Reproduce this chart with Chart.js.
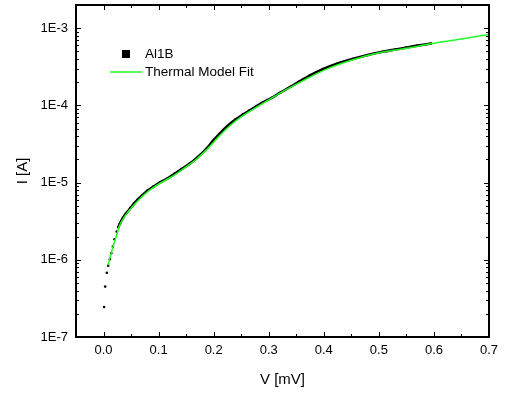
<!DOCTYPE html>
<html>
<head>
<meta charset="utf-8">
<script src="https://cdn.jsdelivr.net/npm/chart.js@4/dist/chart.umd.min.js"></script>
<style>
html,body{margin:0;padding:0;background:#fff;}
canvas{display:block;}
</style>
</head>
<body>
<canvas id="c" width="512" height="394"></canvas>
<script>
// ---- data ----
const measLabel = 'Al1B';
const measV = [0.001,0.003,0.006,0.0085,0.0115,0.014,0.017,0.020,0.024,0.027,0.030,0.035,0.041,0.048,0.055,0.062,0.070,0.080,0.090,0.102,0.115,0.129,0.142,0.156,0.170,0.187,0.200,0.211,0.225,0.240,0.253,0.265,0.276,0.290,0.305,0.320,0.340,0.356,0.375,0.398,0.425,0.452,0.480,0.507,0.530,0.549,0.570,0.595];
const measI = [2.45e-7,4.5e-7,6.8e-7,8.4e-7,1.02e-6,1.22e-6,1.48e-6,1.85e-6,2.32e-6,2.65e-6,2.97e-6,3.45e-6,4.0e-6,4.6e-6,5.3e-6,6.0e-6,6.8e-6,7.9e-6,8.8e-6,1.0e-5,1.12e-5,1.3e-5,1.5e-5,1.75e-5,2.1e-5,2.75e-5,3.55e-5,4.3e-5,5.4e-5,6.6e-5,7.6e-5,8.6e-5,9.6e-5,1.1e-4,1.25e-4,1.45e-4,1.75e-4,2.05e-4,2.45e-4,2.95e-4,3.5e-4,4.0e-4,4.5e-4,4.95e-4,5.3e-4,5.6e-4,5.95e-4,6.35e-4];
// below this voltage the measured points are shown as separate dots
const measDotsBelow = 0.027;

const fitLabel = 'Thermal Model Fit';
const fitV = [0.008,0.015,0.022,0.029,0.040,0.055,0.070,0.090,0.110,0.130,0.150,0.170,0.190,0.210,0.230,0.250,0.275,0.300,0.330,0.360,0.400,0.450,0.500,0.550,0.600,0.650,0.700];
const fitI = [8.5e-7,1.3e-6,1.9e-6,2.75e-6,3.8e-6,5.1e-6,6.6e-6,8.6e-6,1.05e-5,1.27e-5,1.6e-5,2.05e-5,2.8e-5,4.0e-5,5.5e-5,7.1e-5,9.2e-5,1.18e-4,1.58e-4,2.05e-4,2.85e-4,3.85e-4,4.8e-4,5.5e-4,6.4e-4,7.25e-4,8.3e-4];

const xTicks = [0.0,0.1,0.2,0.3,0.4,0.5,0.6,0.7];
const xTickLabels = ['0.0','0.1','0.2','0.3','0.4','0.5','0.6','0.7'];
const xMinorTicks = [0.05,0.15,0.25,0.35,0.45,0.55,0.65];
const yTicks = [1e-7,1e-6,1e-5,1e-4,1e-3];
const yTickLabels = ['1E-7','1E-6','1E-5','1E-4','1E-3'];
const xTitle = 'V [mV]';
const yTitle = 'I [A]';

const FONT = "'Liberation Sans', Arial, sans-serif";
const GREEN = '#22ff22';

const measData = measV.map((v,i)=>({x:v,y:measI[i]}));
const fitData = fitV.map((v,i)=>({x:v,y:fitI[i]}));

const framePlugin = {
  id: 'frame',
  afterDatasetsDraw(chart) {
    const {ctx, chartArea: a, scales} = chart;
    const xs = scales.x, ys = scales.y;
    ctx.save();
    ctx.strokeStyle = '#000';
    ctx.lineWidth = 1;
    const tick = (x1,y1,x2,y2)=>{ctx.beginPath();ctx.moveTo(x1,y1);ctx.lineTo(x2,y2);ctx.stroke();};
    xTicks.forEach(v=>{const p=Math.round(xs.getPixelForValue(v))+0.5; tick(p,a.bottom,p,a.bottom-5); tick(p,a.top,p,a.top+5);});
    xMinorTicks.forEach(v=>{const p=Math.round(xs.getPixelForValue(v))+0.5; tick(p,a.bottom,p,a.bottom-3); tick(p,a.top,p,a.top+3);});
    const yMax = ys.max;
    for (let e=-7; e<=-3; e++) {
      for (let m=1; m<=9; m++) {
        const v = m*Math.pow(10,e);
        if (v > yMax*1.0001) break;
        const p = Math.round(ys.getPixelForValue(v))+0.5;
        const len = m===1 ? 5 : 3;
        tick(a.left,p,a.left+len,p);
        tick(a.right,p,a.right-len,p);
      }
    }
    ctx.lineWidth = 2;
    ctx.strokeRect(a.left, a.top, a.right-a.left, a.bottom-a.top);
    // legend
    const lx = a.left + 34, ly1 = a.top + 49, ly2 = a.top + 67;
    ctx.fillStyle = '#000';
    ctx.fillRect(lx+12, ly1-4, 8, 8);
    ctx.strokeStyle = GREEN;
    ctx.lineWidth = 1.5;
    tick(lx, ly2, lx+32, ly2);
    ctx.fillStyle = '#000';
    ctx.font = '13.5px ' + FONT;
    ctx.textBaseline = 'middle';
    ctx.textAlign = 'left';
    ctx.fillText(chart.data.datasets[0].label, lx+35, ly1);
    ctx.fillText(chart.data.datasets[1].label, lx+35, ly2);
    ctx.restore();
  }
};

new Chart(document.getElementById('c'), {
  type: 'scatter',
  data: {
    datasets: [
      {
        label: measLabel,
        data: measData,
        showLine: true,
        borderColor: '#000',
        borderWidth: 2.6,
        backgroundColor: '#000',
        pointRadius: 1.3,
        pointBorderWidth: 0,
        pointBackgroundColor: '#000',
        cubicInterpolationMode: 'monotone',
        segment: {
          borderColor: c => (measV[c.p0DataIndex] < measDotsBelow ? 'rgba(0,0,0,0)' : '#000')
        },
        order: 2
      },
      {
        label: fitLabel,
        data: fitData,
        showLine: true,
        borderColor: GREEN,
        borderWidth: 1.5,
        pointRadius: 0,
        cubicInterpolationMode: 'monotone',
        order: 1
      }
    ]
  },
  options: {
    responsive: false,
    devicePixelRatio: 1,
    animation: false,
    layout: {padding: {left: 0, right: 23, top: 5, bottom: 0}},
    plugins: {legend: {display: false}, tooltip: {enabled: false}},
    scales: {
      x: {
        type: 'linear',
        min: -0.05, max: 0.7,
        grid: {display: false, drawTicks: false, tickLength: 0},
        border: {display: false},
        afterBuildTicks: s => { s.ticks = xTicks.map(v=>({value:v})); },
        afterFit: s => { s.height = 57; s.paddingLeft = 0; s.paddingRight = 0; },
        ticks: {
          color: '#000', padding: 6, maxRotation: 0, autoSkip: false,
          font: {family: FONT, size: 13},
          callback: (v) => { const i = xTicks.findIndex(t=>Math.abs(t-v)<1e-9); return i>=0 ? xTickLabels[i] : ''; }
        },
        title: {display: true, text: xTitle, color: '#000', font: {family: FONT, size: 15}, padding: {top: 0, bottom: 5}}
      },
      y: {
        type: 'logarithmic',
        min: 1e-7, max: 2e-3,
        grid: {display: false, drawTicks: false, tickLength: 0},
        border: {display: false},
        afterBuildTicks: s => { s.ticks = yTicks.map(v=>({value:v})); },
        afterFit: s => { s.width = 76; s.paddingTop = 0; s.paddingBottom = 0; },
        ticks: {
          color: '#000', padding: 8, autoSkip: false,
          font: {family: FONT, size: 13},
          callback: (v) => { const i = yTicks.findIndex(t=>Math.abs(Math.log10(t)-Math.log10(v))<1e-6); return i>=0 ? yTickLabels[i] : ''; }
        },
        title: {display: true, text: yTitle, color: '#000', font: {family: FONT, size: 15}, padding: {top: 14, bottom: 0}}
      }
    }
  },
  plugins: [framePlugin]
});
</script>
</body>
</html>
